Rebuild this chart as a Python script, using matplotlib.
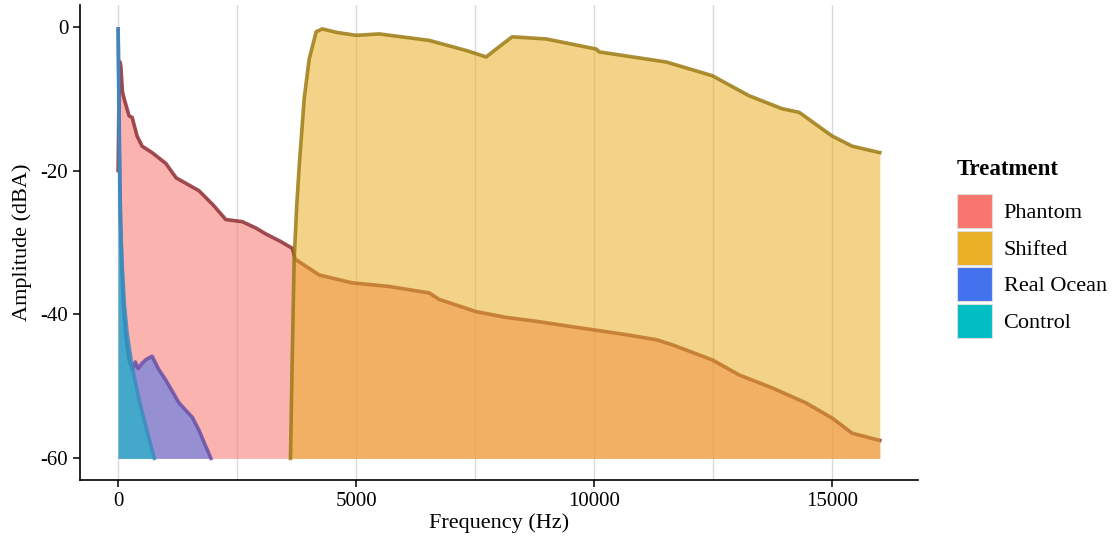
import matplotlib
matplotlib.use("Agg")
import matplotlib.pyplot as plt
from matplotlib.patches import Patch

plt.rcParams['font.family'] = ['Liberation Serif', 'DejaVu Serif']
plt.rcParams['axes.unicode_minus'] = False

# --- data (frequency in Hz, amplitude in dBA) ---
phantom_f = [0, 20, 40, 57, 90, 126, 231, 294, 399, 504, 714, 1002, 1218, 1700,
             2000, 2262, 2610, 2900, 3102, 3400, 3660, 3718, 4223, 4916, 5693,
             6534, 6744, 7521, 8151, 8845, 9538, 9958, 10672, 11303, 11639,
             12479, 13046, 13739, 14454, 15000, 15420, 16000]
phantom_db = [-20, -8, -4.9, -5.5, -9, -10, -12.4, -12.6, -15.2, -16.6, -17.5,
              -19.0, -21.0, -22.8, -24.8, -26.8, -27.1, -28.0, -28.8, -29.8,
              -30.8, -32.3, -34.5, -35.6, -36.1, -37.0, -37.9, -39.6, -40.4,
              -41.0, -41.7, -42.1, -42.8, -43.5, -44.2, -46.3, -48.4, -50.2,
              -52.3, -54.4, -56.5, -57.5]

shifted_f = [3620, 3660, 3697, 3750, 3803, 3908, 4013, 4160, 4286, 4600, 5000,
             5483, 6534, 7311, 7731, 7941, 8277, 8992, 10042, 10105, 11513,
             12479, 13256, 13950, 14307, 15000, 15420, 16000]
shifted_db = [-60, -45, -32.4, -25, -19.4, -10, -4.5, -0.7, -0.3, -0.8, -1.2,
              -1.0, -1.9, -3.3, -4.2, -3.1, -1.4, -1.7, -3.1, -3.5, -4.9, -6.8,
              -9.6, -11.4, -11.9, -15.2, -16.6, -17.5]

ocean_f = [0, 15, 30, 50, 80, 120, 170, 230, 300, 360, 420, 500, 600, 714,
           850, 1000, 1280, 1560, 1700, 1820, 1950]
ocean_db = [-0.3, -8, -18, -27, -34, -39.5, -43.5, -46.3, -47.6, -46.6, -47.5,
            -46.8, -46.2, -45.8, -47.6, -49.1, -52.3, -54.3, -56.1, -58.0, -60]

control_f = [0, 10, 20, 35, 55, 84, 130, 189, 294, 441, 600, 760]
control_db = [-0.3, -8, -15, -22, -28, -33, -38.5, -42.6, -47.3, -51.9, -56, -60]

treatments = ['Phantom', 'Shifted', 'Real Ocean', 'Control']
fill_colors = ['#F8766D', '#E9AF25', '#4472EE', '#00BEC4']
edge_colors = ['#8E2F35', '#9C7A12', '#6A4FA8', '#3C8CC0']
series = [(phantom_f, phantom_db), (shifted_f, shifted_db),
          (ocean_f, ocean_db), (control_f, control_db)]

fig = plt.figure(figsize=(11.18, 5.39), dpi=100)
ax = fig.add_axes([0.0716, 0.1095, 0.7494, 0.881])

# vertical grid lines (major + minor)
for gx in range(0, 16000, 2500):
    ax.axvline(gx, color='#DADADA', lw=1.0, zorder=0)

for (f, db), fc, ec in zip(series, fill_colors, edge_colors):
    ax.fill_between(f, -60, db, color=fc, alpha=0.55, lw=0, zorder=2)
    ax.plot(f, db, color=ec, lw=2.6, alpha=0.85, solid_joinstyle='round', zorder=2)

ax.set_xlim(-800, 16800)
ax.set_ylim(-63, 3)
ax.set_xticks([0, 5000, 10000, 15000])
ax.set_yticks([0, -20, -40, -60])
ax.spines['top'].set_visible(False)
ax.spines['right'].set_visible(False)
for s in ['left', 'bottom']:
    ax.spines[s].set_linewidth(1.2)
ax.tick_params(axis='both', length=5, width=1.1, labelsize=15, colors='black')
ax.set_xlabel('Frequency (Hz)', fontsize=16, labelpad=2)
ax.set_ylabel('Amplitude (dBA)', fontsize=16, labelpad=6)

handles = [Patch(facecolor=c, edgecolor='#DDDDDD', lw=0.8) for c in fill_colors]
leg = fig.legend(handles, treatments, title='Treatment', loc='upper left',
                 bbox_to_anchor=(0.838, 0.742), frameon=False, fontsize=16,
                 title_fontproperties={'weight': 'bold', 'size': 16.5},
                 handlelength=1.6, handleheight=2.0, handletextpad=0.5,
                 labelspacing=0.1)
leg._legend_box.align = 'left'
leg._legend_box.sep = 10

fig.savefig('out.png', dpi=100)
